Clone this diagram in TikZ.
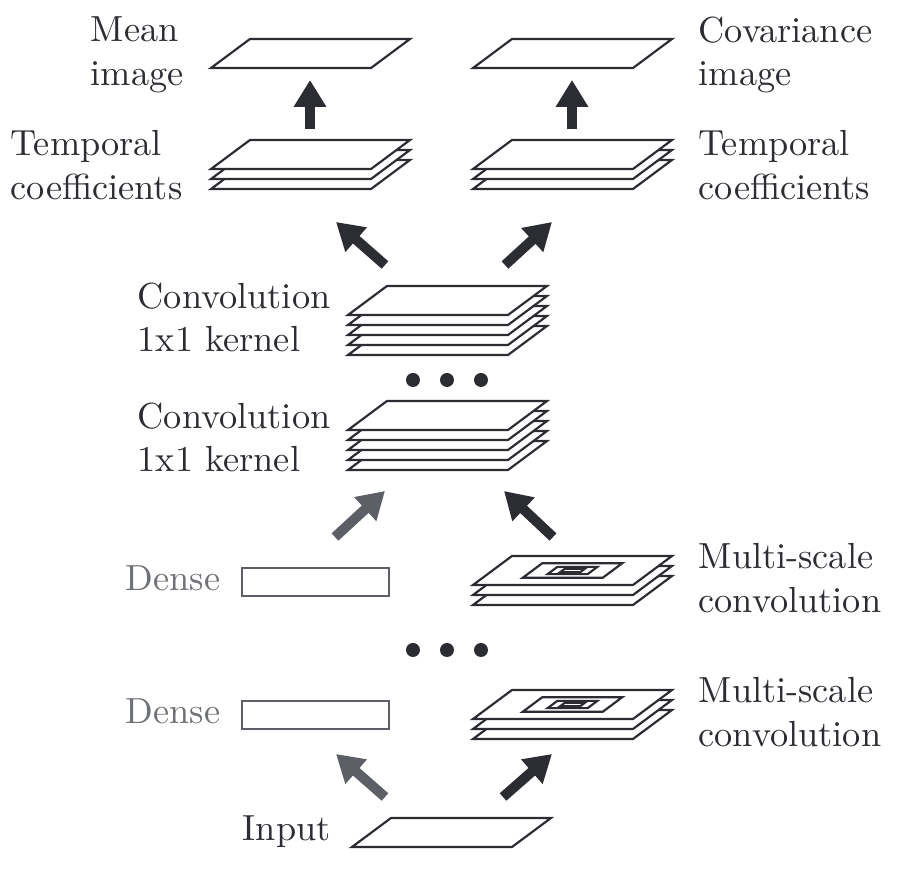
\documentclass[tikz,border=0pt]{standalone}
\usetikzlibrary{arrows.meta}
\definecolor{ink}{HTML}{2B2D33}
\definecolor{dim}{HTML}{5C5F65}
\definecolor{dimtext}{HTML}{6E7176}
\begin{document}
\begin{tikzpicture}[x=0.2755pt,y=-0.2755pt,
  sheet/.pic={\draw[ink,line width=0.6pt,fill=white] (-99.5,14.5) -- (60.5,14.5) -- (99.5,-14.5) -- (-60.5,-14.5) -- cycle;},
  lbl/.style={anchor=north west,align=left,inner sep=0pt,text=ink},
  bigarrow/.style={line width=2.75pt,-{Triangle[width=8.5pt,length=7.4pt]}}]
\useasboundingbox (0,0) rectangle (901,882);

\pic at (310.5,53.5) {sheet};
\pic at (572.5,53.5) {sheet};
\foreach \k in {2,1,0} \pic at (310.5,154.5+10*\k) {sheet};
\foreach \k in {2,1,0} \pic at (572.5,154.5+10*\k) {sheet};
\foreach \k in {4,3,2,1,0} \pic at (447.5,300.5+10*\k) {sheet};
\foreach \k in {4,3,2,1,0} \pic at (447.5,415.5+10*\k) {sheet};
\foreach \y in {570.5,704.5} {
  \foreach \k in {2,1,0} \pic at (572.5,\y+10*\k) {sheet};
  \foreach \s in {0.5,0.25,0.125} \pic[scale=\s] at (572.5,\y) {sheet};
}
\pic at (451.5,832.5) {sheet};

\draw[dim,line width=0.6pt] (242,568) rectangle (389,596);
\draw[dim,line width=0.6pt] (242,701) rectangle (389,729);

\foreach \x in {413,447,481} {
  \fill[ink] (\x,380) circle[radius=7];
  \fill[ink] (\x,650) circle[radius=7];
}

\node[lbl] (mean) at (90,16) {Mean\\image};
\node[lbl] (cov) at (698,16) {Covariance\\image};
\node[lbl] (tempL) at (10,130) {Temporal\\coefficients};
\node[lbl] (tempR) at (698,130) {Temporal\\coefficients};
\node[lbl] (conv1) at (137,282) {Convolution\\1x1 kernel};
\node[lbl] (conv2) at (137,402) {Convolution\\1x1 kernel};
\node[lbl] (ms1) at (698,543) {Multi-scale\\convolution};
\node[lbl] (ms2) at (698,677) {Multi-scale\\convolution};
\node[anchor=base west,inner sep=0pt,text=dimtext] (dense1) at (125,591) {Dense};
\node[anchor=base west,inner sep=0pt,text=dimtext] (dense2) at (125,724) {Dense};
\node[anchor=base west,inner sep=0pt,text=ink] (input) at (242,841) {Input};

\coordinate (meanS) at (310,129); \coordinate (meanT) at (310,80);
\coordinate (covS) at (572,129); \coordinate (covT) at (572,80);
\coordinate (tempLS) at (385,265); \coordinate (tempLT) at (336,222);
\coordinate (tempRS) at (505,265); \coordinate (tempRT) at (552,222);
\coordinate (denseS) at (335,537); \coordinate (denseT) at (385,491);
\coordinate (msS) at (553,537); \coordinate (msT) at (504,491);
\coordinate (inLS) at (385,797); \coordinate (inLT) at (336,754);
\coordinate (inRS) at (503,797); \coordinate (inRT) at (552,754);

\draw[bigarrow,ink] (meanS) -- (meanT);
\draw[bigarrow,ink] (covS) -- (covT);
\draw[bigarrow,ink] (tempLS) -- (tempLT);
\draw[bigarrow,ink] (tempRS) -- (tempRT);
\draw[bigarrow,dim] (denseS) -- (denseT);
\draw[bigarrow,ink] (msS) -- (msT);
\draw[bigarrow,dim] (inLS) -- (inLT);
\draw[bigarrow,ink] (inRS) -- (inRT);
\end{tikzpicture}
\end{document}
